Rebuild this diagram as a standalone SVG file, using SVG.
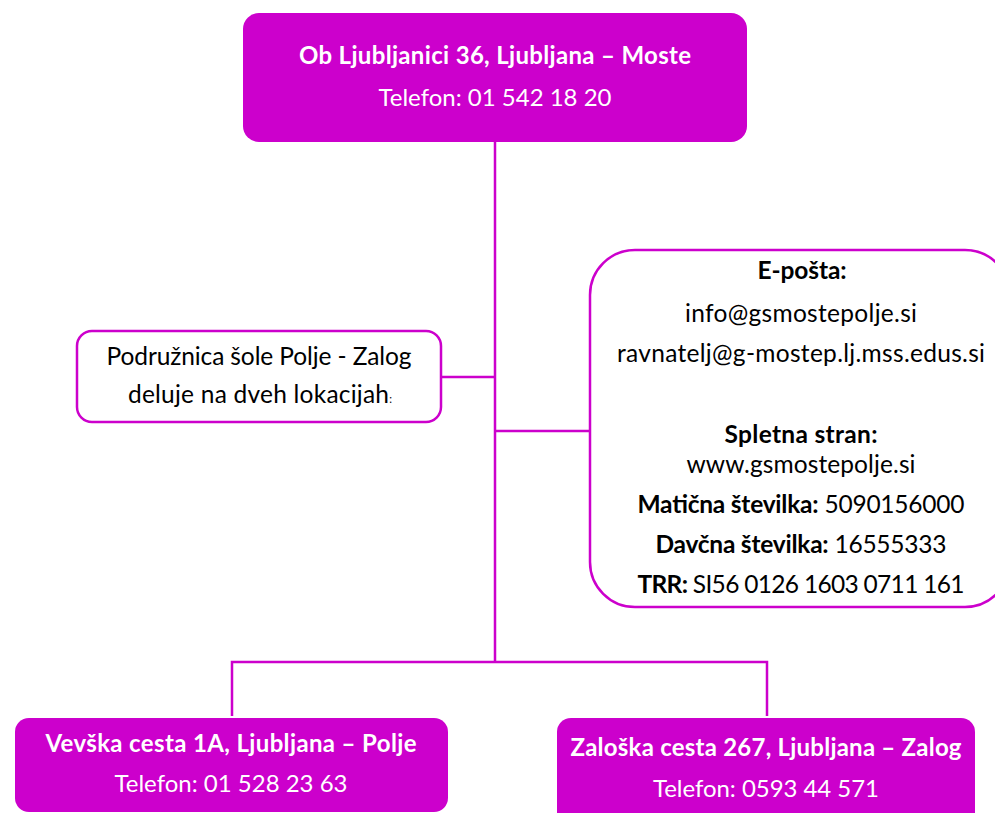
<svg xmlns="http://www.w3.org/2000/svg" width="995" height="813" viewBox="0 0 995 813">
<style>
.fill{fill:#CC00CC;}
.outline{fill:#FFFFFF;stroke:#CC00CC;stroke-width:2.5;}
.conn{fill:none;stroke:#CC00CC;stroke-width:2.5;}
text{font-family:Lato,"Open Sans","Liberation Sans",sans-serif;text-anchor:middle;}
.w{fill:#FFFFFF;font-size:24px;}
.k{fill:#000000;font-size:24.5px;}
.b{font-weight:bold;}
</style>
<rect width="995" height="813" fill="#FFFFFF"/>
<g id="connectors">
<path class="conn" d="M495,142 V662"/>
<path class="conn" d="M441,377 H495"/>
<path class="conn" d="M495,431 H590"/>
<path class="conn" d="M232,716 V662 H767 V716"/>
</g>
<g id="main">
<rect class="fill" x="243" y="13" width="504" height="129" rx="16"/>
<text class="w b" x="495" y="64" textLength="392">Ob Ljubljanici 36, Ljubljana – Moste</text>
<text class="w" x="495" y="106" textLength="233">Telefon: 01 542 18 20</text>
</g>
<g id="podruznica">
<rect class="outline" x="77" y="331" width="364" height="91" rx="15"/>
<text class="k" x="259" y="365" textLength="305">Podružnica šole Polje - Zalog</text>
<text class="k" x="260" y="403" textLength="264">deluje na dveh lokacijah<tspan font-size="11">:</tspan></text>
</g>
<g id="kontakt">
<rect class="outline" x="590" y="250" width="420" height="357" rx="45"/>
<text class="k b" x="802" y="279" textLength="89">E-pošta:</text>
<text class="k" x="801" y="322" textLength="232">info@gsmostepolje.si</text>
<text class="k" x="801" y="362" textLength="368">ravnatelj@g-mostep.lj.mss.edus.si</text>
<text class="k b" x="801" y="443" textLength="153">Spletna stran:</text>
<text class="k" x="801" y="473" textLength="229">www.gsmostepolje.si</text>
<text class="k" x="801" y="513" textLength="327"><tspan font-weight="bold">Matična številka:</tspan> 5090156000</text>
<text class="k" x="801" y="553" textLength="291"><tspan font-weight="bold">Davčna številka:</tspan> 16555333</text>
<text class="k" x="801" y="593" textLength="327"><tspan font-weight="bold">TRR:</tspan> SI56 0126 1603 0711 161</text>
</g>
<g id="polje">
<rect class="fill" x="15" y="718" width="433" height="94" rx="14"/>
<text class="w b" x="231" y="752" textLength="371">Vevška cesta 1A, Ljubljana – Polje</text>
<text class="w" x="231" y="792" textLength="233">Telefon: 01 528 23 63</text>
</g>
<g id="zalog">
<rect class="fill" x="557" y="718" width="418" height="110" rx="14"/>
<text class="w b" x="766" y="756" textLength="391">Zaloška cesta 267, Ljubljana – Zalog</text>
<text class="w" x="766" y="797" textLength="226">Telefon: 0593 44 571</text>
</g>
</svg>
